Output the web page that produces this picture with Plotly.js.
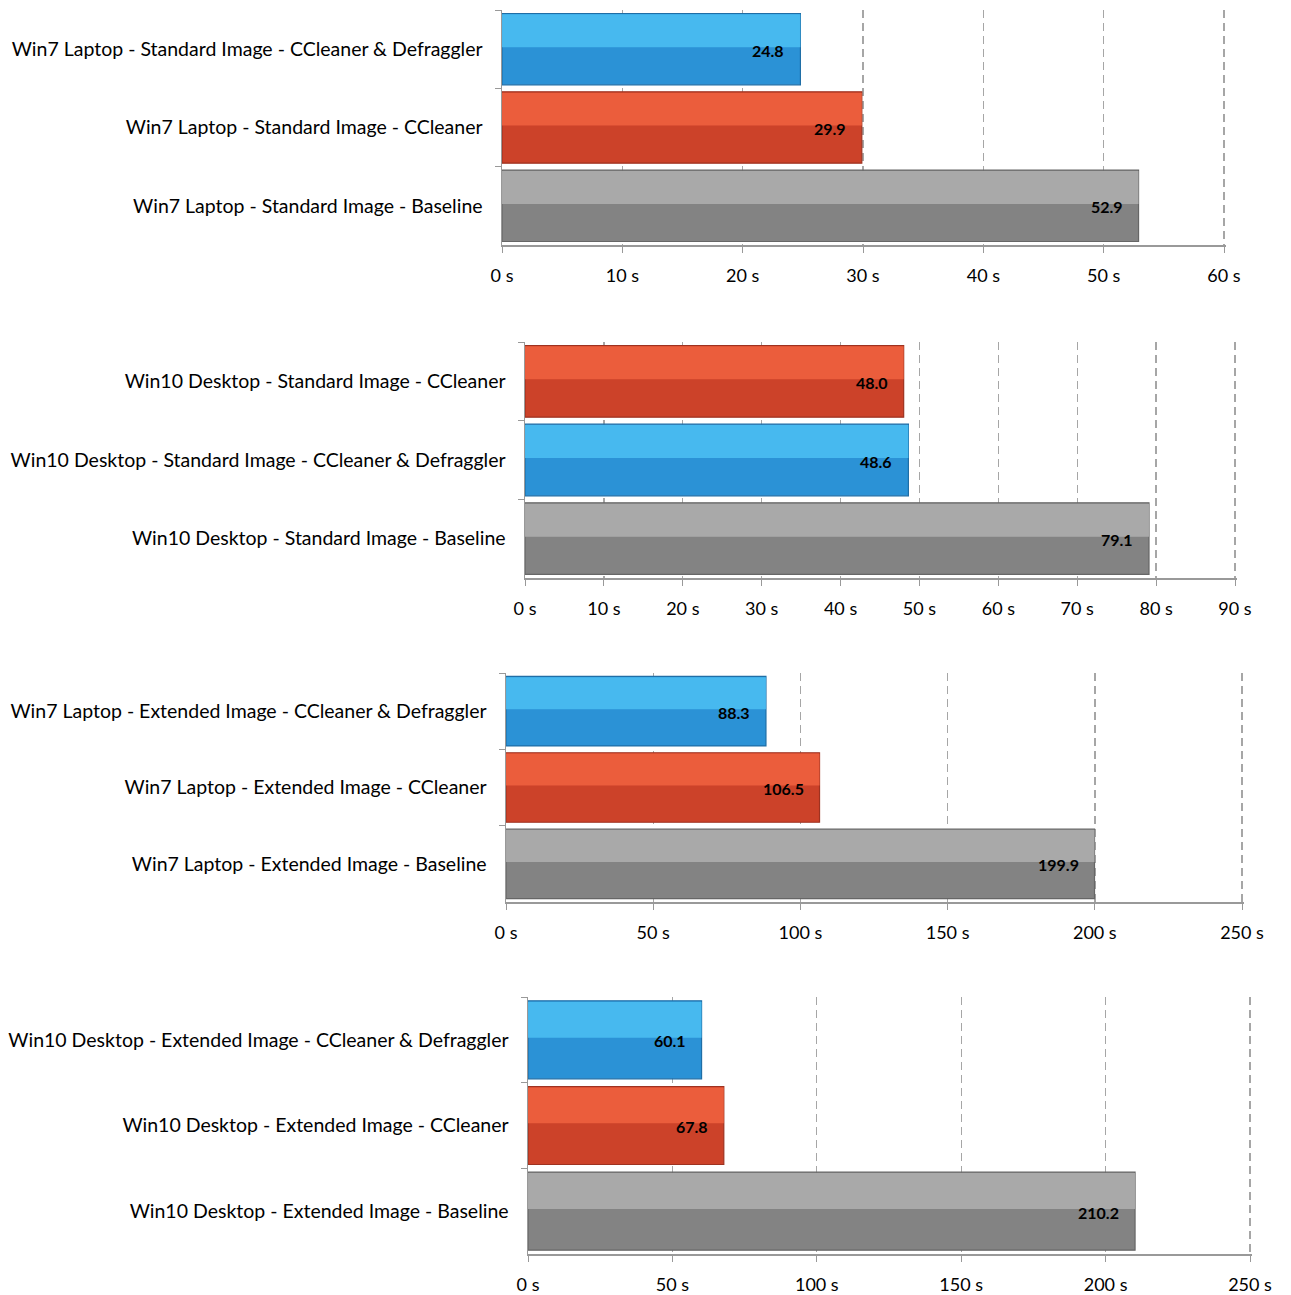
<!DOCTYPE html>
<html>
<head>
<meta charset="utf-8">
<script src="https://cdn.plot.ly/plotly-3.0.1.min.js"></script>
<style>html,body{margin:0;padding:0;background:#fff}#chart{width:1291px;height:1295px}</style>
</head>
<body>
<div id="chart"></div>
<script>
// ---- data ----
const cats1 = ["Win7 Laptop - Standard Image - CCleaner & Defraggler", "Win7 Laptop - Standard Image - CCleaner", "Win7 Laptop - Standard Image - Baseline"];
const kinds1 = ["both", "ccleaner", "baseline"];
const vals1 = [24.8, 29.9, 52.9];

const cats2 = ["Win10 Desktop - Standard Image - CCleaner", "Win10 Desktop - Standard Image - CCleaner & Defraggler", "Win10 Desktop - Standard Image - Baseline"];
const kinds2 = ["ccleaner", "both", "baseline"];
const vals2 = [48.0, 48.6, 79.1];

const cats3 = ["Win7 Laptop - Extended Image - CCleaner & Defraggler", "Win7 Laptop - Extended Image - CCleaner", "Win7 Laptop - Extended Image - Baseline"];
const kinds3 = ["both", "ccleaner", "baseline"];
const vals3 = [88.3, 106.5, 199.9];

const cats4 = ["Win10 Desktop - Extended Image - CCleaner & Defraggler", "Win10 Desktop - Extended Image - CCleaner", "Win10 Desktop - Extended Image - Baseline"];
const kinds4 = ["both", "ccleaner", "baseline"];
const vals4 = [60.1, 67.8, 210.2];

const xMax = [60, 90, 250, 250];
const xStep = [10, 10, 50, 50];
const tickSuffix = " s";

// ---- styles ----
const baseColor = {both: "#2b92d6", ccleaner: "#cc4229", baseline: "#838383"};
const lightColor = {both: "#4cbff3", ccleaner: "#f0623f", baseline: "#b0b0b0"};
const edgeColor = {both: "#1f6ea6", ccleaner: "#9e3220", baseline: "#666666"};

const xPx = [[502, 1224], [525, 1235], [506, 1242], [528, 1250]];
const yPx = [[10, 245], [342, 578], [673, 902], [997, 1254]];
const FONT = "Lato, 'Open Sans', sans-serif";
const EPS = 0.003; // tiny extension so the last gridline is drawn

const groups = [
  {cats: cats1, kinds: kinds1, vals: vals1},
  {cats: cats2, kinds: kinds2, vals: vals2},
  {cats: cats3, kinds: kinds3, vals: vals3},
  {cats: cats4, kinds: kinds4, vals: vals4}
];

const traces = [];
const annotations = [];
const layout = {
  width: 1291, height: 1295,
  margin: {l: 0, r: 0, t: 0, b: 0},
  paper_bgcolor: "#fff", plot_bgcolor: "rgba(0,0,0,0)",
  showlegend: false, barmode: "overlay",
  font: {family: FONT, size: 18, color: "#000"},
  annotations: annotations
};

groups.forEach((g, i) => {
  const n = i + 1;
  const xa = "x" + (n === 1 ? "" : n), ya = "y" + (n === 1 ? "" : n);
  traces.push({
    type: "bar", orientation: "h", x: g.vals, y: g.cats, xaxis: xa, yaxis: ya,
    width: 0.91, hoverinfo: "skip",
    marker: {color: g.kinds.map(k => baseColor[k]), line: {color: g.kinds.map(k => edgeColor[k]), width: 1.2}}
  });
  traces.push({
    type: "bar", orientation: "h", x: g.vals, y: g.cats, xaxis: xa, yaxis: ya,
    width: 0.42, offset: -0.445, hoverinfo: "skip",
    marker: {color: g.kinds.map(k => lightColor[k]), opacity: 0.85, line: {width: 0}}
  });
  g.vals.forEach((v, j) => {
    annotations.push({
      xref: xa, yref: ya, x: v, y: g.cats[j], xanchor: "right", yanchor: "middle",
      xshift: -14, yshift: -1, text: v.toFixed(1), showarrow: false,
      font: {family: FONT, size: 16, color: "#000", weight: "bold"}
    });
  });
  const top = yPx[i][0], bot = yPx[i][1];
  const x0 = xPx[i][0], x1 = xPx[i][1];
  const x1e = x1 + (x1 - x0) * EPS;
  layout["xaxis" + (n === 1 ? "" : n)] = {
    domain: [x0/1291, x1e/1291], anchor: ya, range: [0, xMax[i] * (1 + EPS)], dtick: xStep[i], tick0: 0,
    ticksuffix: tickSuffix, showgrid: true, gridcolor: "#a6a6a6", griddash: "8px,5px", gridwidth: 1.4,
    showline: true, linecolor: "#999", linewidth: 1.5, ticks: "outside", ticklen: 6, tickcolor: "#999",
    zeroline: false, fixedrange: true, ticklabelstandoff: 8,
    tickfont: {family: FONT, size: 18, color: "#000"}, layer: "below traces"
  };
  layout["yaxis" + (n === 1 ? "" : n)] = {
    domain: [1 - bot/1295, 1 - top/1295], anchor: xa, type: "category", autorange: "reversed",
    showline: true, linecolor: "#999", linewidth: 1.5, ticks: "outside", ticklen: 6, tickcolor: "#999",
    tickson: "boundaries", showgrid: false, fixedrange: true, ticklabelstandoff: 14,
    tickfont: {family: FONT, size: 19.5, color: "#000"}
  };
});

Plotly.newPlot("chart", traces, layout, {displayModeBar: false, staticPlot: true});
</script>
</body>
</html>
